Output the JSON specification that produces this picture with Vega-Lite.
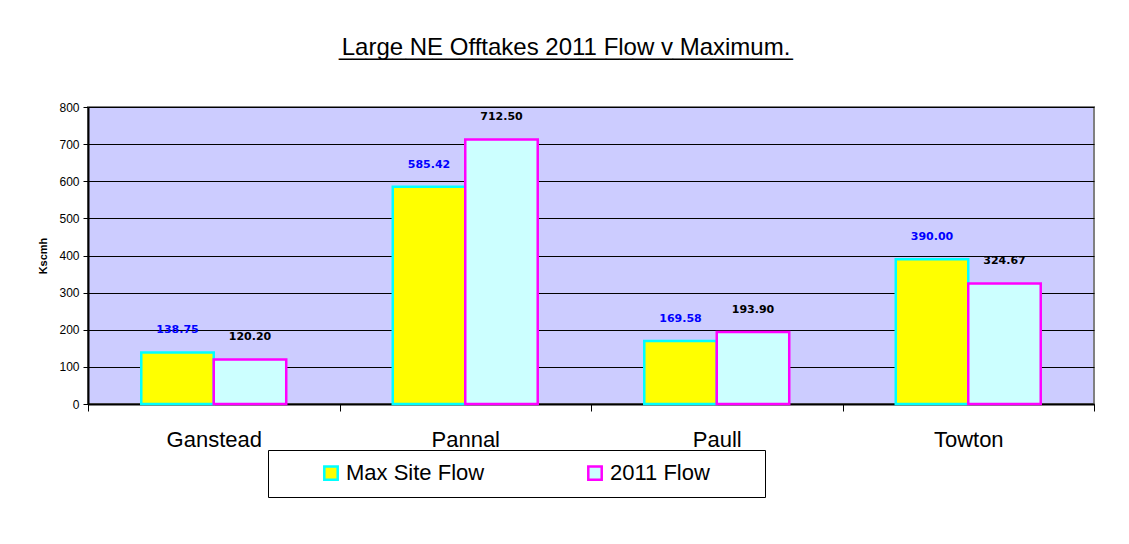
{
  "$schema": "https://vega.github.io/schema/vega-lite/v6.json",
  "autosize": {"type": "none"},
  "width": 1006,
  "height": 297,
  "padding": {"left": 88, "top": 107, "right": 35, "bottom": 140},
  "background": "white",
  "title": {
    "text": "Large NE Offtakes 2011 Flow v Maximum.",
    "subtitle": "__________________________________",
    "font": "Liberation Sans",
    "fontSize": 24,
    "fontWeight": "normal",
    "color": "black",
    "subtitleFont": "Liberation Sans",
    "subtitleFontSize": 24,
    "subtitleColor": "black",
    "subtitlePadding": -24,
    "anchor": "middle",
    "frame": "group",
    "dx": -25,
    "offset": 41
  },
  "data": {
    "values": [
      {"site": "Ganstead", "series": "Max Site Flow", "value": 138.75},
      {"site": "Ganstead", "series": "2011 Flow", "value": 120.20},
      {"site": "Pannal", "series": "Max Site Flow", "value": 585.42},
      {"site": "Pannal", "series": "2011 Flow", "value": 712.50},
      {"site": "Paull", "series": "Max Site Flow", "value": 169.58},
      {"site": "Paull", "series": "2011 Flow", "value": 193.90},
      {"site": "Towton", "series": "Max Site Flow", "value": 390.00},
      {"site": "Towton", "series": "2011 Flow", "value": 324.67}
    ]
  },
  "encoding": {
    "x": {
      "field": "site",
      "type": "nominal",
      "sort": null,
      "scale": {"paddingInner": 0, "paddingOuter": 0},
      "axis": {
        "title": null,
        "labelAngle": 0,
        "labelFont": "Liberation Sans",
        "labelFontSize": 22,
        "labelColor": "black",
        "labelPadding": 18,
        "tickBand": "extent",
        "tickSize": 7,
        "tickColor": "black",
        "domainColor": "black",
        "domainWidth": 2,
        "grid": false
      }
    },
    "xOffset": {
      "field": "series",
      "type": "nominal",
      "sort": ["Max Site Flow", "2011 Flow"],
      "scale": {"paddingInner": 0, "paddingOuter": 0.735}
    },
    "y": {
      "field": "value",
      "type": "quantitative",
      "scale": {"domain": [0, 800], "nice": false},
      "axis": {
        "title": "Kscmh",
        "titleFont": "Liberation Sans",
        "titleFontSize": 11,
        "titleFontWeight": "bold",
        "titleColor": "black",
        "titlePadding": 10,
        "values": [0, 100, 200, 300, 400, 500, 600, 700, 800],
        "labelFont": "Liberation Sans",
        "labelFontSize": 12,
        "labelColor": "black",
        "labelPadding": 4,
        "tickSize": 5,
        "tickColor": "black",
        "domainColor": "black",
        "domainWidth": 2,
        "grid": true,
        "gridColor": "black",
        "gridWidth": 1,
        "gridOpacity": 1
      }
    }
  },
  "layer": [
    {
      "mark": {"type": "bar", "strokeWidth": 2.5},
      "encoding": {
        "color": {
          "field": "series",
          "type": "nominal",
          "scale": {"domain": ["Max Site Flow", "2011 Flow"], "range": ["#FFFF00", "#CCFFFF"]},
          "legend": {
            "title": " ",
            "titleOrient": "right",
            "titlePadding": 43,
            "titleFontSize": 22,
            "orient": "none",
            "legendX": 180,
            "legendY": 343,
            "direction": "horizontal",
            "symbolType": "square",
            "symbolSize": 180,
            "symbolStrokeWidth": 2.5,
            "symbolOpacity": 1,
            "symbolOffset": 40,
            "labelFont": "Liberation Sans",
            "labelFontSize": 22,
            "labelColor": "black",
            "labelOffset": 4,
            "columnPadding": 59,
            "padding": 12,
            "strokeColor": "black",
            "fillColor": "white"
          }
        },
        "stroke": {
          "field": "series",
          "type": "nominal",
          "scale": {"domain": ["Max Site Flow", "2011 Flow"], "range": ["#00FFFF", "#FF00FF"]},
          "legend": {
            "title": " ",
            "titleOrient": "right",
            "titlePadding": 43,
            "titleFontSize": 22,
            "orient": "none",
            "legendX": 180,
            "legendY": 343,
            "direction": "horizontal",
            "symbolType": "square",
            "symbolSize": 180,
            "symbolStrokeWidth": 2.5,
            "symbolOffset": 40,
            "labelFont": "Liberation Sans",
            "labelFontSize": 22,
            "labelColor": "black",
            "labelOffset": 4,
            "columnPadding": 59,
            "padding": 12,
            "strokeColor": "black",
            "fillColor": "white"
          }
        }
      }
    },
    {
      "mark": {
        "type": "text",
        "font": "DejaVu Sans",
        "fontSize": 11,
        "fontWeight": "bold",
        "baseline": "middle",
        "dy": -22
      },
      "encoding": {
        "text": {"field": "value", "type": "quantitative", "format": ".2f"},
        "fill": {
          "field": "series",
          "type": "nominal",
          "scale": {"domain": ["Max Site Flow", "2011 Flow"], "range": ["#0000FF", "#000000"]},
          "legend": null
        }
      }
    }
  ],
  "resolve": {"scale": {"fill": "independent"}},
  "config": {
    "view": {"fill": "#CCCCFF", "stroke": "#808080", "strokeWidth": 2}
  }
}
